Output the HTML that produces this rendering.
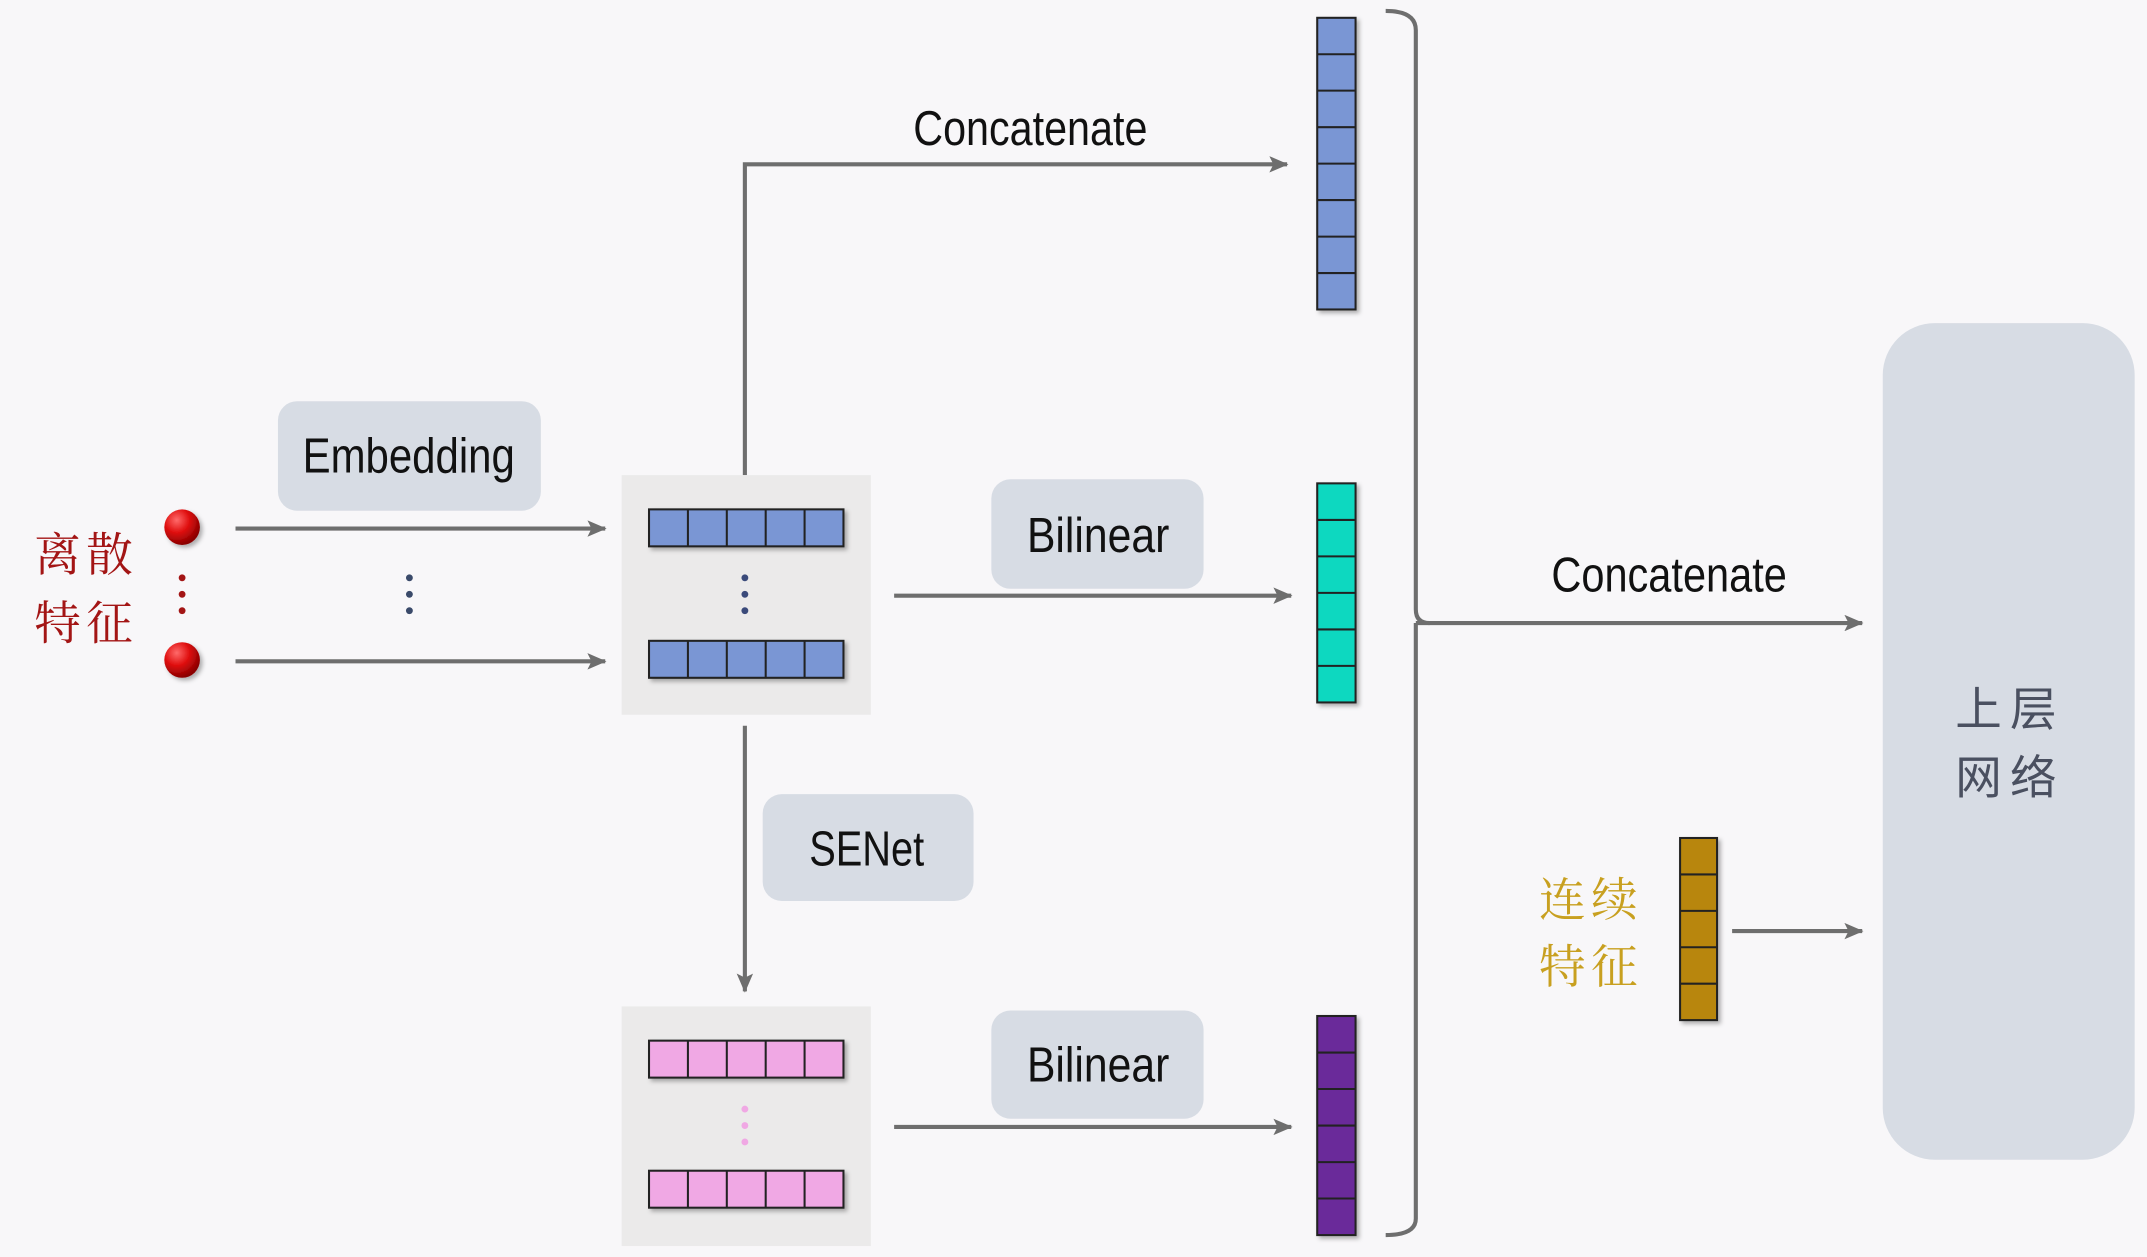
<!DOCTYPE html>
<html><head><meta charset="utf-8"><style>
html,body{margin:0;padding:0;background:#f8f7f9;}
svg{display:block}
text{font-family:"Liberation Sans","Noto Sans CJK SC",sans-serif;}
.cn{font-family:"Liberation Serif","Noto Serif CJK SC",serif;}
</style></head><body>
<svg width="2147" height="1257" viewBox="0 0 1568 918" xmlns="http://www.w3.org/2000/svg">
<defs>
<marker id="ar" markerWidth="14" markerHeight="12" refX="13" refY="6" orient="auto" markerUnits="userSpaceOnUse">
<path d="M0,0 L14,6 L0,12 L3,6 Z" fill="#6e6e6e"/></marker>
<radialGradient id="ball" cx="0.35" cy="0.3" r="0.7"><stop offset="0" stop-color="#ff6a6a"/><stop offset="0.5" stop-color="#e01010"/><stop offset="1" stop-color="#8a0000"/></radialGradient>
<filter id="sh" x="-20%" y="-20%" width="150%" height="150%"><feDropShadow dx="2" dy="2" stdDeviation="1.5" flood-color="#000" flood-opacity="0.3"/></filter>
</defs>
<rect width="1568" height="918" fill="#f8f7f9"/>

<text class="cn" x="63" y="417" font-size="34" fill="#a31515" text-anchor="middle" letter-spacing="4">离散</text>
<text class="cn" x="63" y="467" font-size="34" fill="#a31515" text-anchor="middle" letter-spacing="4">特征</text>
<circle cx="133" cy="385" r="13" fill="url(#ball)" filter="url(#sh)"/>
<circle cx="133" cy="482" r="13" fill="url(#ball)" filter="url(#sh)"/>
<g fill="#a31515"><circle cx="133" cy="422" r="2.5"/><circle cx="133" cy="434" r="2.5"/><circle cx="133" cy="446" r="2.5"/></g>

<rect x="203" y="293" width="192" height="80" rx="14" fill="#d7dce4"/>
<text x="221" y="345" font-size="36" fill="#111" textLength="155" lengthAdjust="spacingAndGlyphs">Embedding</text>
<g stroke="#6e6e6e" stroke-width="3" fill="none" marker-end="url(#ar)">
<line x1="172" y1="386" x2="442" y2="386"/>
<line x1="172" y1="483" x2="442" y2="483"/>
<polyline points="544,347 544,120 940,120"/>
<line x1="653" y1="435" x2="943" y2="435"/>
<line x1="544" y1="530" x2="544" y2="724"/>
<line x1="653" y1="823" x2="943" y2="823"/>
<line x1="1034" y1="455" x2="1360" y2="455"/>
<line x1="1265" y1="680" x2="1360" y2="680"/>
</g>
<g fill="#3a4a6a"><circle cx="299" cy="422" r="2.5"/><circle cx="299" cy="434" r="2.5"/><circle cx="299" cy="446" r="2.5"/></g>

<rect x="454" y="347" width="182" height="175" fill="#ebeaea"/>
<g filter="url(#sh)" fill="#7a96d4" stroke="#222" stroke-width="1.5">
<rect x="474" y="372" width="142" height="27"/><rect x="474" y="468" width="142" height="27"/></g>
<g stroke="#222" stroke-width="1.5"><line x1="502.4" y1="372" x2="502.4" y2="399"/><line x1="530.8" y1="372" x2="530.8" y2="399"/><line x1="559.2" y1="372" x2="559.2" y2="399"/><line x1="587.6" y1="372" x2="587.6" y2="399"/>
<line x1="502.4" y1="468" x2="502.4" y2="495"/><line x1="530.8" y1="468" x2="530.8" y2="495"/><line x1="559.2" y1="468" x2="559.2" y2="495"/><line x1="587.6" y1="468" x2="587.6" y2="495"/></g>
<g fill="#3a4a7a"><circle cx="544" cy="422" r="2.5"/><circle cx="544" cy="434" r="2.5"/><circle cx="544" cy="446" r="2.5"/></g>

<rect x="454" y="735" width="182" height="175" fill="#ebeaea"/>
<g filter="url(#sh)" fill="#f0a8e4" stroke="#222" stroke-width="1.5">
<rect x="474" y="760" width="142" height="27"/><rect x="474" y="855" width="142" height="27"/></g>
<g stroke="#222" stroke-width="1.5"><line x1="502.4" y1="760" x2="502.4" y2="787"/><line x1="530.8" y1="760" x2="530.8" y2="787"/><line x1="559.2" y1="760" x2="559.2" y2="787"/><line x1="587.6" y1="760" x2="587.6" y2="787"/>
<line x1="502.4" y1="855" x2="502.4" y2="882"/><line x1="530.8" y1="855" x2="530.8" y2="882"/><line x1="559.2" y1="855" x2="559.2" y2="882"/><line x1="587.6" y1="855" x2="587.6" y2="882"/></g>
<g fill="#f0a8e4"><circle cx="544" cy="810" r="2.5"/><circle cx="544" cy="822" r="2.5"/><circle cx="544" cy="834" r="2.5"/></g>

<text x="667" y="106" font-size="36" fill="#111" textLength="171" lengthAdjust="spacingAndGlyphs">Concatenate</text>
<rect x="724" y="350" width="155" height="80" rx="14" fill="#d7dce4"/>
<text x="750" y="403" font-size="36" fill="#111" textLength="104" lengthAdjust="spacingAndGlyphs">Bilinear</text>
<rect x="557" y="580" width="154" height="78" rx="14" fill="#d7dce4"/>
<text x="591" y="632" font-size="36" fill="#111" textLength="84" lengthAdjust="spacingAndGlyphs">SENet</text>
<rect x="724" y="738" width="155" height="79" rx="14" fill="#d7dce4"/>
<text x="750" y="790" font-size="36" fill="#111" textLength="104" lengthAdjust="spacingAndGlyphs">Bilinear</text>

<g filter="url(#sh)" stroke="#222" stroke-width="1.5">
<rect x="962" y="13" width="28" height="213" fill="#7a96d4"/>
<rect x="962" y="353" width="28" height="160" fill="#10d8c0"/>
<rect x="962" y="742" width="28" height="160" fill="#6a2a9a"/>
<rect x="1227" y="612" width="27" height="133" fill="#b8860b"/>
</g>
<g stroke="#222" stroke-width="1.5">
<line x1="962" y1="39.6" x2="990" y2="39.6"/><line x1="962" y1="66.2" x2="990" y2="66.2"/><line x1="962" y1="92.9" x2="990" y2="92.9"/><line x1="962" y1="119.5" x2="990" y2="119.5"/><line x1="962" y1="146.1" x2="990" y2="146.1"/><line x1="962" y1="172.8" x2="990" y2="172.8"/><line x1="962" y1="199.4" x2="990" y2="199.4"/>
<line x1="962" y1="379.7" x2="990" y2="379.7"/><line x1="962" y1="406.3" x2="990" y2="406.3"/><line x1="962" y1="433" x2="990" y2="433"/><line x1="962" y1="459.7" x2="990" y2="459.7"/><line x1="962" y1="486.3" x2="990" y2="486.3"/>
<line x1="962" y1="768.7" x2="990" y2="768.7"/><line x1="962" y1="795.3" x2="990" y2="795.3"/><line x1="962" y1="822" x2="990" y2="822"/><line x1="962" y1="848.7" x2="990" y2="848.7"/><line x1="962" y1="875.3" x2="990" y2="875.3"/>
<line x1="1227" y1="638.6" x2="1254" y2="638.6"/><line x1="1227" y1="665.2" x2="1254" y2="665.2"/><line x1="1227" y1="691.8" x2="1254" y2="691.8"/><line x1="1227" y1="718.4" x2="1254" y2="718.4"/>
</g>

<path d="M1012,8 Q1034,8 1034,22 L1034,445 Q1034,455 1044,455 M1034,455 L1034,890 Q1034,902 1012,902" stroke="#6e6e6e" stroke-width="3" fill="none"/>
<text x="1133" y="432" font-size="36" fill="#111" textLength="172" lengthAdjust="spacingAndGlyphs">Concatenate</text>

<rect x="1375" y="236" width="184" height="611" rx="38" fill="#d7dce4"/>
<text x="1468" y="530" font-size="34" text-anchor="middle" fill="#4a5060" letter-spacing="6">上层</text>
<text x="1468" y="580" font-size="34" text-anchor="middle" fill="#4a5060" letter-spacing="6">网络</text>
<text class="cn" x="1162" y="669" font-size="34" text-anchor="middle" fill="#c8a020" letter-spacing="4">连续</text>
<text class="cn" x="1162" y="718" font-size="34" text-anchor="middle" fill="#c8a020" letter-spacing="4">特征</text>
</svg>
</body></html>
